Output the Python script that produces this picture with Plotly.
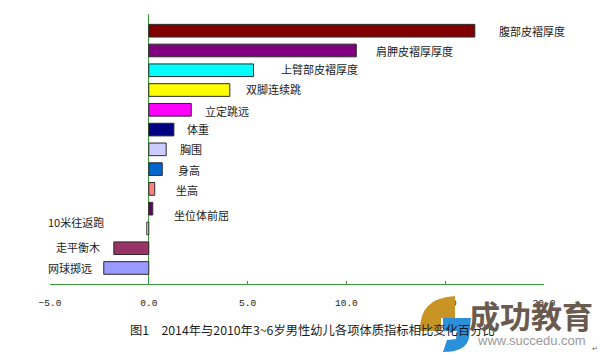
import plotly.graph_objects as go

# ---- data (top to bottom as in the picture) ----
categories = ["腹部皮褶厚度", "肩胛皮褶厚厚度", "上臂部皮褶厚度", "双脚连续跳", "立定跳远",
              "体重", "胸围", "身高", "坐高", "坐位体前屈", "10米往返跑", "走平衡木", "网球掷远"]
values = [16.5, 10.5, 5.3, 4.1, 2.15, 1.27, 0.88, 0.68, 0.3, 0.2, -0.1, -1.77, -2.28]
tick_vals = [-5, 0, 5, 10, 15, 20]
caption = "图1　2014年与2010年3~6岁男性幼儿各项体质指标相比变化百分比"

# ---- styles ----
bar_colors = ["#800000", "#800080", "#00FFFF", "#FFFF00", "#FF00FF", "#000080", "#CCCCFF",
              "#0066CC", "#FF8080", "#660066", "#CCFFCC", "#993366", "#9999FF"]
label_dx = [22, 18, 25, 14, 12, 11, 12, 14, 19, 19, -41, -12, -10]
label_dy = [0, -1, 1, 1, -1, 1, 0, -1, -1, -6, 6, 1, 0]
GREEN = "#3c9a3c"
CJK = "Noto Sans CJK SC"

W, H = 600, 354
ML, MR, MT, MB = 50, 56, 14, 70
PW, PH = W - ML - MR, H - MT - MB


def px(x):
    return (x - ML) / PW


def py(y):
    return (H - MB - y) / PH


fig = go.Figure()
fig.add_trace(go.Bar(
    x=values, y=categories, orientation="h",
    marker=dict(color=bar_colors, line=dict(color="#2a2a2a", width=1)),
    width=0.64, hoverinfo="skip",
))

annotations = []
for cat, v, dx, dy in zip(categories, values, label_dx, label_dy):
    annotations.append(dict(
        x=v, y=cat, xref="x", yref="y", text=cat, showarrow=False,
        xanchor="left" if dx > 0 else "right", yanchor="middle",
        xshift=dx, yshift=dy, font=dict(family=CJK, size=11, color="#1a1a1a"),
    ))

# caption
annotations.append(dict(
    x=px(128), y=py(330), xref="paper", yref="paper", text=caption, showarrow=False,
    xanchor="left", yanchor="middle", font=dict(family=CJK, size=12.3, color="#1a1a1a"),
))

# watermark text
annotations.append(dict(
    x=px(531), y=py(315), xref="paper", yref="paper", text="<b>成功教育</b>", showarrow=False,
    xanchor="center", yanchor="middle", font=dict(family=CJK, size=31, color="#6b5b4f"),
))
annotations.append(dict(
    x=px(588), y=py(340), xref="paper", yref="paper", text="www.succedu.com", showarrow=False,
    xanchor="right", yanchor="middle", font=dict(family="Liberation Sans", size=13, color="#9a9a9a"),
))
annotations.append(dict(
    x=px(595), y=py(349), xref="paper", yref="paper", text="↵", showarrow=False,
    xanchor="center", yanchor="middle", font=dict(family="DejaVu Sans", size=7, color="#666"),
))


def path(points):
    s = "M {:.4f},{:.4f}".format(px(points[0][0]), py(points[0][1]))
    for p in points[1:]:
        if len(p) == 4:
            s += " Q {:.4f},{:.4f} {:.4f},{:.4f}".format(px(p[0]), py(p[1]), px(p[2]), py(p[3]))
        else:
            s += " L {:.4f},{:.4f}".format(px(p[0]), py(p[1]))
    return s + " Z"


gold = path([(455, 296), (455, 318), (441, 318), (441, 331), (420, 331), (419, 298, 455, 296)])
blue = path([(443, 318), (471, 318), (469, 338), (466, 352, 443, 352), (447, 340),
             (456, 339), (457, 331), (443, 331)])

shapes = [
    dict(type="path", xref="paper", yref="paper", path=gold, fillcolor="#c99426",
         line=dict(width=0), layer="above"),
    dict(type="path", xref="paper", yref="paper", path=blue, fillcolor="#2c8fd9",
         line=dict(width=0), layer="above"),
]

fig.update_layout(
    width=W, height=H,
    margin=dict(l=ML, r=MR, t=MT, b=MB),
    paper_bgcolor="white", plot_bgcolor="white",
    showlegend=False,
    annotations=annotations,
    shapes=shapes,
    xaxis=dict(
        range=[-5, 20], tickvals=tick_vals, tickformat=".1f",
        showgrid=False, zeroline=True, zerolinecolor=GREEN, zerolinewidth=1,
        showline=True, linecolor=GREEN, linewidth=1,
        ticks="inside", ticklen=3, tickcolor=GREEN,
        tickfont=dict(family="Liberation Mono", size=9.5, color="#222"),
        ticklabelstandoff=10, fixedrange=True,
    ),
    yaxis=dict(
        type="category", categoryorder="array", categoryarray=categories,
        range=[12.81, -0.845], showgrid=False, zeroline=False,
        showline=False, showticklabels=False, ticks="", fixedrange=True,
    ),
)

fig.write_html("out.html")
